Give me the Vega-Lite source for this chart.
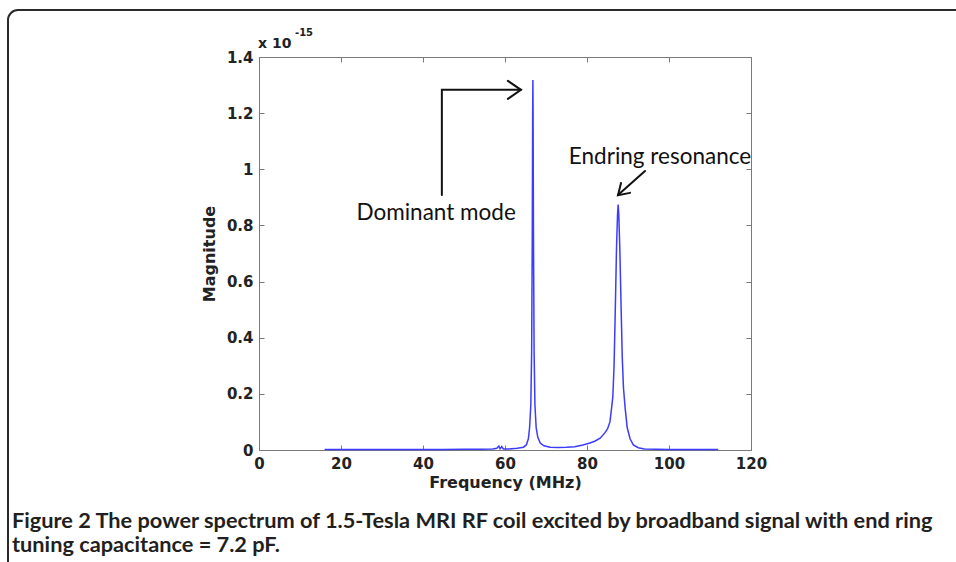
{
  "$schema": "https://vega.github.io/schema/vega-lite/v6.json",
  "width": 492,
  "height": 393,
  "autosize": {"type": "none"},
  "padding": {"left": 259, "top": 57, "right": 205, "bottom": 112},
  "background": "white",
  "config": {
    "view": {"stroke": "#7a7a7a", "strokeWidth": 1},
    "axis": {
      "domain": false,
      "grid": false,
      "tickColor": "#7a7a7a",
      "tickSize": -5,
      "tickWidth": 1,
      "labelFont": "DejaVu Sans",
      "labelFontWeight": "bold",
      "labelFontSize": 15,
      "labelColor": "#222222",
      "titleFont": "DejaVu Sans",
      "titleFontWeight": "bold",
      "titleFontSize": 16,
      "titleColor": "#222222"
    }
  },
  "title": {
    "text": ["Figure 2 The power spectrum of 1.5-Tesla MRI RF coil excited by broadband signal with end ring", "tuning capacitance = 7.2 pF."],
    "orient": "bottom",
    "anchor": "start",
    "frame": "group",
    "dx": -247,
    "offset": 0,
    "dy": -67,
    "font": "Lato",
    "fontWeight": "bold",
    "fontSize": 21.75,
    "lineHeight": 24,
    "color": "#231f20"
  },
  "datasets": {
    "spectrum": [
      {"f": 16, "m": 2e-18}, {"f": 20, "m": 2e-18}, {"f": 25, "m": 2e-18}, {"f": 30, "m": 2e-18},
      {"f": 35, "m": 2e-18}, {"f": 40, "m": 2e-18}, {"f": 45, "m": 2e-18}, {"f": 50, "m": 3e-18},
      {"f": 54, "m": 3e-18}, {"f": 57, "m": 4e-18}, {"f": 58, "m": 6e-18}, {"f": 58.5, "m": 1.4e-17},
      {"f": 58.8, "m": 4e-18}, {"f": 59.2, "m": 1.2e-17}, {"f": 59.6, "m": 4e-18}, {"f": 61, "m": 4e-18},
      {"f": 63, "m": 6e-18}, {"f": 64.5, "m": 1e-17}, {"f": 65.2, "m": 1.8e-17}, {"f": 65.7, "m": 4e-17},
      {"f": 66.0, "m": 8e-17}, {"f": 66.3, "m": 1.6e-16}, {"f": 66.5, "m": 3.5e-16}, {"f": 66.65, "m": 7.5e-16},
      {"f": 66.75, "m": 1.2e-15}, {"f": 66.8, "m": 1.318e-15}, {"f": 66.85, "m": 1.2e-15}, {"f": 66.95, "m": 7.5e-16},
      {"f": 67.1, "m": 3.5e-16}, {"f": 67.3, "m": 1.6e-16}, {"f": 67.6, "m": 8e-17}, {"f": 68.0, "m": 4.5e-17},
      {"f": 68.6, "m": 2.5e-17}, {"f": 69.5, "m": 1.5e-17}, {"f": 71, "m": 1e-17}, {"f": 73, "m": 9e-18},
      {"f": 75, "m": 1e-17}, {"f": 77, "m": 1.2e-17}, {"f": 79, "m": 1.8e-17}, {"f": 80.7, "m": 2.5e-17},
      {"f": 82, "m": 3.2e-17}, {"f": 83.2, "m": 4.2e-17}, {"f": 84.3, "m": 6e-17}, {"f": 85.0, "m": 7.5e-17},
      {"f": 85.6, "m": 1e-16}, {"f": 86.0, "m": 1.5e-16}, {"f": 86.3, "m": 1.9e-16}, {"f": 86.6, "m": 3e-16},
      {"f": 86.9, "m": 5e-16}, {"f": 87.2, "m": 7.2e-16}, {"f": 87.45, "m": 8.4e-16}, {"f": 87.6, "m": 8.74e-16},
      {"f": 87.75, "m": 8.4e-16}, {"f": 88.0, "m": 7.2e-16}, {"f": 88.3, "m": 5.2e-16}, {"f": 88.6, "m": 3.3e-16},
      {"f": 88.9, "m": 2.2e-16}, {"f": 89.3, "m": 1.5e-16}, {"f": 89.8, "m": 8e-17}, {"f": 90.5, "m": 4e-17},
      {"f": 91.3, "m": 1.8e-17}, {"f": 92.5, "m": 8e-18}, {"f": 94, "m": 4e-18}, {"f": 97, "m": 3e-18},
      {"f": 100, "m": 2e-18}, {"f": 105, "m": 2e-18}, {"f": 112, "m": 2e-18}
    ],
    "arrows": [
      {"id": "dom_shaft", "o": 1, "f": 44.6, "m": 9.08e-16},
      {"id": "dom_shaft", "o": 2, "f": 44.6, "m": 1.283e-15},
      {"id": "dom_shaft", "o": 3, "f": 63.9, "m": 1.283e-15},
      {"id": "dom_head", "o": 1, "f": 60.7, "m": 1.315e-15},
      {"id": "dom_head", "o": 2, "f": 63.9, "m": 1.283e-15},
      {"id": "dom_head", "o": 3, "f": 60.7, "m": 1.251e-15},
      {"id": "end_shaft", "o": 1, "f": 94.15, "m": 9.94e-16},
      {"id": "end_shaft", "o": 2, "f": 87.56, "m": 9.08e-16},
      {"id": "end_head", "o": 1, "f": 88.3, "m": 9.51e-16},
      {"id": "end_head", "o": 2, "f": 87.56, "m": 9.08e-16},
      {"id": "end_head", "o": 3, "f": 90.5, "m": 9.16e-16}
    ],
    "notes": [
      {"label": "Dominant mode", "f": 43.2, "m": 8.44e-16},
      {"label": "Endring resonance", "f": 97.8, "m": 1.044e-15}
    ],
    "exponent": [
      {"label": "x 10", "f": -0.24, "m": 1.446e-15, "part": "base"},
      {"label": "-15", "f": 8.78, "m": 1.486e-15, "part": "power"}
    ],
    "frame": [{"id": "border"}]
  },
  "layer": [
    {
      "data": {"name": "frame"},
      "mark": {"type": "rect", "fill": null, "stroke": "#2a2a2a", "strokeWidth": 2, "cornerRadius": 10},
      "encoding": {
        "x": {"value": -251},
        "x2": {"value": 740},
        "y": {"value": -47},
        "y2": {"value": 520}
      }
    },
    {
      "data": {"name": "spectrum"},
      "mark": {"type": "line", "stroke": "#3c3cff", "strokeWidth": 1.5},
      "encoding": {
        "x": {
          "field": "f", "type": "quantitative",
          "scale": {"domain": [0, 120], "nice": false, "zero": false},
          "axis": {"orient": "bottom", "values": [0, 20, 40, 60, 80, 100, 120], "title": "Frequency (MHz)", "labelPadding": 11, "titlePadding": 3, "labelFlush": false}
        },
        "y": {
          "field": "m", "type": "quantitative",
          "scale": {"domain": [0, 1.4e-15], "nice": false},
          "axis": {"orient": "left", "values": [0, 2e-16, 4e-16, 6e-16, 8e-16, 1e-15, 1.2e-15, 1.4e-15], "labelExpr": "format(datum.value*1e15, '.1~f')", "title": "Magnitude", "labelPadding": 11, "titlePadding": 9}
        }
      }
    },
    {
      "data": {"name": "spectrum"},
      "mark": {"type": "line", "opacity": 0},
      "encoding": {
        "x": {"field": "f", "type": "quantitative", "axis": {"orient": "top", "values": [0, 20, 40, 60, 80, 100, 120], "labels": false, "title": null}},
        "y": {"field": "m", "type": "quantitative", "axis": {"orient": "right", "values": [0, 2e-16, 4e-16, 6e-16, 8e-16, 1e-15, 1.2e-15, 1.4e-15], "labels": false, "title": null}}
      }
    },
    {
      "data": {"name": "arrows"},
      "mark": {"type": "line", "stroke": "#111111", "strokeWidth": 2, "strokeCap": "round", "strokeJoin": "miter"},
      "encoding": {
        "x": {"field": "f", "type": "quantitative", "axis": null},
        "y": {"field": "m", "type": "quantitative", "axis": null},
        "detail": {"field": "id"},
        "order": {"field": "o"}
      }
    },
    {
      "data": {"name": "notes"},
      "mark": {"type": "text", "font": "Lato", "fontSize": 22.5, "color": "#111111", "align": "center", "baseline": "middle"},
      "encoding": {
        "x": {"field": "f", "type": "quantitative", "axis": null},
        "y": {"field": "m", "type": "quantitative", "axis": null},
        "text": {"field": "label"}
      }
    },
    {
      "data": {"name": "exponent"},
      "mark": {"type": "text", "font": "DejaVu Sans", "fontWeight": "bold", "color": "#222222", "align": "left", "baseline": "middle"},
      "encoding": {
        "x": {"field": "f", "type": "quantitative", "axis": null},
        "y": {"field": "m", "type": "quantitative", "axis": null},
        "text": {"field": "label"},
        "size": {"field": "part", "type": "nominal", "scale": {"domain": ["base", "power"], "range": [14, 10]}, "legend": null}
      }
    }
  ],
  "resolve": {"axis": {"x": "independent", "y": "independent"}}
}
